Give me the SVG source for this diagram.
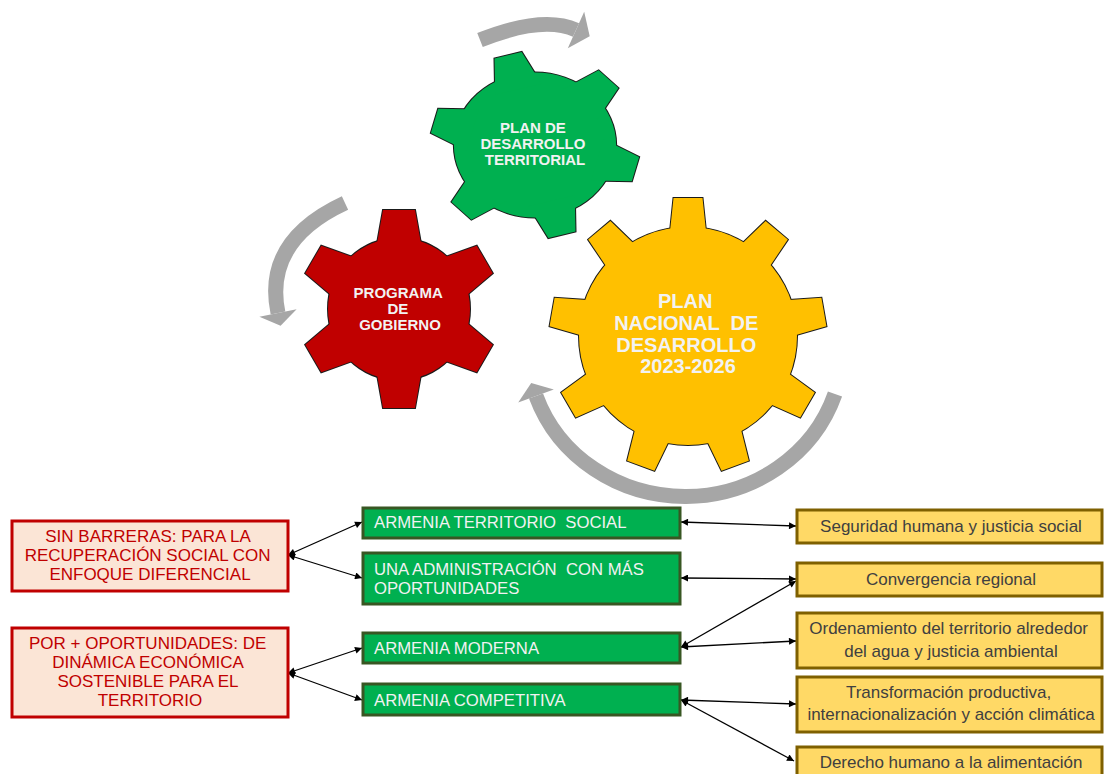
<svg xmlns="http://www.w3.org/2000/svg" xmlns:xlink="http://www.w3.org/1999/xlink" width="1104" height="774" viewBox="0 0 1104 774">
  <style>
    .gs { stroke: #1a1a1a; stroke-width: 2; stroke-linejoin: miter; }
    .gtext { font-family: "Liberation Sans", Arial, sans-serif; font-weight: bold; fill: #F2F2F2; text-anchor: middle; }
    .band { fill: none; stroke: #A6A6A6; stroke-width: 15; stroke-linecap: butt; }
    .head { fill: #A6A6A6; }
    .rbox { fill: #FBE5D6; stroke: #C00000; stroke-width: 3; }
    .rtext { font-family: "Liberation Sans", Arial, sans-serif; font-size: 17px; fill: #C00000; text-anchor: middle; }
    .gbox { fill: #00B050; stroke: #385723; stroke-width: 3; }
    .gbtext { font-family: "Liberation Sans", Arial, sans-serif; font-size: 16.7px; fill: #F2F2F2; }
    .ybox { fill: #FFD966; stroke: #7F6000; stroke-width: 3; }
    .ytext { font-family: "Liberation Sans", Arial, sans-serif; font-size: 17px; fill: #404040; text-anchor: middle; }
    .conn { fill: none; stroke: #000; stroke-width: 1.3; marker-start: url(#ah); marker-end: url(#ah); }
  </style>
  <defs>
    <marker id="ah" viewBox="0 0 10 10" refX="10" refY="5" markerWidth="10" markerHeight="7" markerUnits="userSpaceOnUse" orient="auto-start-reverse">
      <path d="M0,0 L10,5 L0,10 z" fill="#000"/>
    </marker>
    <polygon id="toothR" points="-23.3,-58 -16,-99 16,-99 23.3,-58"/>
    <polygon id="toothG" points="-23,-62 -13.5,-100 13.5,-100 23,-62"/>
    <polygon id="toothY" points="-19,-95 -14.5,-138 14.5,-138 19,-95"/>
  </defs>

  <!-- gray circular arrows -->
  <g id="arrows-gray">
    <path class="band" d="M480,40 Q543,15 576,30"/>
    <polygon class="head" points="584.2,11.8 589.7,36.2 567.8,48.2"/>
    <path class="band" d="M345,203 Q263,241 278,313"/>
    <polygon class="head" points="296.6,309.2 280.6,325.7 259.4,316.8"/>
    <path class="band" d="M835,394 A158,150 0 0 1 536,396"/>
    <polygon class="head" points="553.8,389.5 531.2,382.9 518.2,402.5"/>
  </g>

  <!-- red gear -->
  <g id="gear-programa">
    <g transform="translate(399,309)" fill="#C00000">
      <g class="gs">
        <circle r="71"/>
        <use xlink:href="#toothR"/>
        <use xlink:href="#toothR" transform="rotate(60)"/>
        <use xlink:href="#toothR" transform="rotate(120)"/>
        <use xlink:href="#toothR" transform="rotate(180)"/>
        <use xlink:href="#toothR" transform="rotate(240)"/>
        <use xlink:href="#toothR" transform="rotate(300)"/>
      </g>
      <g>
        <circle r="71"/>
        <use xlink:href="#toothR"/>
        <use xlink:href="#toothR" transform="rotate(60)"/>
        <use xlink:href="#toothR" transform="rotate(120)"/>
        <use xlink:href="#toothR" transform="rotate(180)"/>
        <use xlink:href="#toothR" transform="rotate(240)"/>
        <use xlink:href="#toothR" transform="rotate(300)"/>
      </g>
    </g>
    <text class="gtext" font-size="15">
      <tspan x="400" y="298">PROGRAMA</tspan>
      <tspan x="400" y="314">DE</tspan>
      <tspan x="400" y="330">GOBIERNO</tspan>
    </text>
  </g>

  <!-- green gear -->
  <g id="gear-territorial">
    <g transform="translate(535,145) scale(1.04,0.93)" fill="#00B050">
      <g class="gs">
        <circle r="78"/>
        <use xlink:href="#toothG" transform="rotate(-15)"/>
        <use xlink:href="#toothG" transform="rotate(45)"/>
        <use xlink:href="#toothG" transform="rotate(105)"/>
        <use xlink:href="#toothG" transform="rotate(165)"/>
        <use xlink:href="#toothG" transform="rotate(225)"/>
        <use xlink:href="#toothG" transform="rotate(285)"/>
      </g>
      <g>
        <circle r="78"/>
        <use xlink:href="#toothG" transform="rotate(-15)"/>
        <use xlink:href="#toothG" transform="rotate(45)"/>
        <use xlink:href="#toothG" transform="rotate(105)"/>
        <use xlink:href="#toothG" transform="rotate(165)"/>
        <use xlink:href="#toothG" transform="rotate(225)"/>
        <use xlink:href="#toothG" transform="rotate(285)"/>
      </g>
    </g>
    <text class="gtext" font-size="15">
      <tspan x="535" y="133">PLAN DE</tspan>
      <tspan x="535" y="149">DESARROLLO</tspan>
      <tspan x="535" y="165">TERRITORIAL</tspan>
    </text>
  </g>

  <!-- yellow gear -->
  <g id="gear-nacional">
    <g transform="translate(688,336)" fill="#FFC000">
      <g class="gs">
        <circle r="109"/>
        <use xlink:href="#toothY"/>
        <use xlink:href="#toothY" transform="rotate(40)"/>
        <use xlink:href="#toothY" transform="rotate(80)"/>
        <use xlink:href="#toothY" transform="rotate(120)"/>
        <use xlink:href="#toothY" transform="rotate(160)"/>
        <use xlink:href="#toothY" transform="rotate(200)"/>
        <use xlink:href="#toothY" transform="rotate(240)"/>
        <use xlink:href="#toothY" transform="rotate(280)"/>
        <use xlink:href="#toothY" transform="rotate(320)"/>
      </g>
      <g>
        <circle r="109"/>
        <use xlink:href="#toothY"/>
        <use xlink:href="#toothY" transform="rotate(40)"/>
        <use xlink:href="#toothY" transform="rotate(80)"/>
        <use xlink:href="#toothY" transform="rotate(120)"/>
        <use xlink:href="#toothY" transform="rotate(160)"/>
        <use xlink:href="#toothY" transform="rotate(200)"/>
        <use xlink:href="#toothY" transform="rotate(240)"/>
        <use xlink:href="#toothY" transform="rotate(280)"/>
        <use xlink:href="#toothY" transform="rotate(320)"/>
      </g>
    </g>
    <text class="gtext" font-size="20">
      <tspan x="688" y="308">PLAN</tspan>
      <tspan x="689" y="330" xml:space="preserve">NACIONAL  DE</tspan>
      <tspan x="689" y="352">DESARROLLO</tspan>
      <tspan x="688" y="373">2023-2026</tspan>
    </text>
  </g>

  <!-- connectors -->
  <g id="connectors">
    <line class="conn" x1="288" y1="555" x2="362" y2="522"/>
    <line class="conn" x1="288" y1="555" x2="362" y2="578"/>
    <line class="conn" x1="288" y1="673" x2="362" y2="648"/>
    <line class="conn" x1="288" y1="673" x2="362" y2="700"/>
    <line class="conn" x1="681" y1="522" x2="796" y2="526"/>
    <line class="conn" x1="681" y1="578" x2="796" y2="579"/>
    <line class="conn" x1="681" y1="647" x2="796" y2="581"/>
    <line class="conn" x1="681" y1="647" x2="796" y2="641"/>
    <line class="conn" x1="681" y1="700" x2="796" y2="704"/>
    <line class="conn" x1="681" y1="700" x2="794" y2="761"/>
  </g>

  <!-- red boxes -->
  <g id="eje-sin-barreras">
    <rect class="rbox" x="12" y="521" width="276" height="70"/>
    <text class="rtext">
      <tspan x="150" y="542">SIN BARRERAS: PARA LA</tspan>
      <tspan x="150" y="561">RECUPERACIÓN SOCIAL CON</tspan>
      <tspan x="150" y="580">ENFOQUE DIFERENCIAL</tspan>
    </text>
  </g>
  <g id="eje-oportunidades">
    <rect class="rbox" x="12" y="628" width="276" height="89"/>
    <text class="rtext">
      <tspan x="150" y="649">POR + OPORTUNIDADES: DE</tspan>
      <tspan x="150" y="668">DINÁMICA ECONÓMICA</tspan>
      <tspan x="150" y="687">SOSTENIBLE PARA EL</tspan>
      <tspan x="150" y="706">TERRITORIO</tspan>
    </text>
  </g>

  <!-- green boxes -->
  <g id="linea-territorio-social">
    <rect class="gbox" x="363" y="508" width="317" height="30"/>
    <text class="gbtext" x="374" y="528" xml:space="preserve">ARMENIA TERRITORIO  SOCIAL</text>
  </g>
  <g id="linea-administracion">
    <rect class="gbox" x="363" y="553" width="317" height="51"/>
    <text class="gbtext">
      <tspan x="374" y="575" xml:space="preserve">UNA ADMINISTRACIÓN  CON MÁS</tspan>
      <tspan x="374" y="594">OPORTUNIDADES</tspan>
    </text>
  </g>
  <g id="linea-moderna">
    <rect class="gbox" x="363" y="633" width="317" height="30"/>
    <text class="gbtext" x="374" y="654">ARMENIA MODERNA</text>
  </g>
  <g id="linea-competitiva">
    <rect class="gbox" x="363" y="684" width="317" height="31"/>
    <text class="gbtext" x="374" y="706">ARMENIA COMPETITIVA</text>
  </g>

  <!-- yellow boxes -->
  <g id="pnd-seguridad">
    <rect class="ybox" x="797" y="510" width="305" height="33"/>
    <text class="ytext" x="951" y="532">Seguridad humana y justicia social</text>
  </g>
  <g id="pnd-convergencia">
    <rect class="ybox" x="797" y="563" width="305" height="33"/>
    <text class="ytext" x="951" y="585">Convergencia regional</text>
  </g>
  <g id="pnd-ordenamiento">
    <rect class="ybox" x="797" y="613" width="305" height="55"/>
    <text class="ytext">
      <tspan x="951" y="634">Ordenamiento del territorio alrededor</tspan>
      <tspan x="951" y="657">del agua y justicia ambiental</tspan>
    </text>
  </g>
  <g id="pnd-transformacion">
    <rect class="ybox" x="797" y="677" width="305" height="55"/>
    <text class="ytext">
      <tspan x="951" y="698">Transformación productiva,</tspan>
      <tspan x="951" y="720">internacionalización y acción climática</tspan>
    </text>
  </g>
  <g id="pnd-alimentacion">
    <rect class="ybox" x="797" y="747" width="305" height="32"/>
    <text class="ytext" x="951" y="768">Derecho humano a la alimentación</text>
  </g>
</svg>
